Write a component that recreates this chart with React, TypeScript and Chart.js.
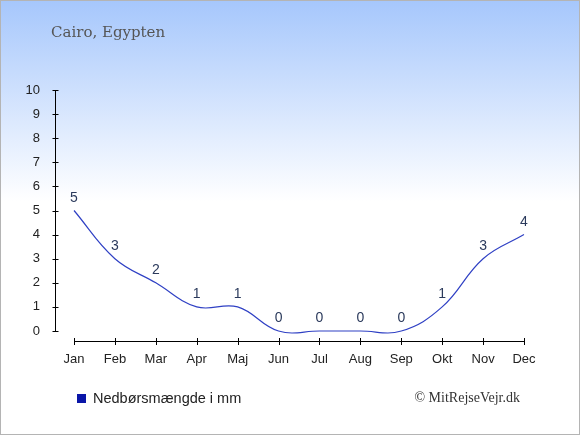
import React, { useEffect, useRef } from "react";
import { Chart, registerables } from "chart.js";

Chart.register(...registerables);

const months = ["Jan", "Feb", "Mar", "Apr", "Maj", "Jun", "Jul", "Aug", "Sep", "Okt", "Nov", "Dec"];
const precipitation = [5, 3, 2, 1, 1, 0, 0, 0, 0, 1, 3, 4];
const yTicks = [0, 1, 2, 3, 4, 5, 6, 7, 8, 9, 10];
const titleText = "Cairo, Egypten";
const legendText = "Nedbørsmængde i mm";
const creditText = "© MitRejseVejr.dk";

const axesPlugin = {
  id: "customAxes",
  afterDraw(chart: any) {
    const ctx = chart.ctx;
    const x = chart.scales.x;
    const y = chart.scales.y;
    ctx.save();
    ctx.strokeStyle = "#000";
    ctx.lineWidth = 1;
    const ax = 55.5;
    const yTop = y.getPixelForValue(10);
    const yBot = y.getPixelForValue(0);
    ctx.beginPath();
    ctx.moveTo(ax, yTop);
    ctx.lineTo(ax, yBot);
    yTicks.forEach((v) => {
      const py = Math.round(y.getPixelForValue(v)) + 0.5;
      ctx.moveTo(ax - 3, py);
      ctx.lineTo(ax + 3, py);
    });
    const xy = Math.round(yBot + 10) + 0.5;
    const x0 = x.getPixelForValue(0);
    const x1 = x.getPixelForValue(months.length - 1);
    ctx.moveTo(x0, xy);
    ctx.lineTo(x1, xy);
    months.forEach((_, i) => {
      const px = Math.round(x.getPixelForValue(i)) + 0.5;
      ctx.moveTo(px, xy - 3.5);
      ctx.lineTo(px, xy + 3.5);
    });
    ctx.stroke();
    ctx.fillStyle = "#2b3a5c";
    ctx.font = "14px 'Liberation Sans', Arial, sans-serif";
    ctx.textAlign = "center";
    ctx.textBaseline = "alphabetic";
    precipitation.forEach((v, i) => {
      const px = x.getPixelForValue(i);
      const py = y.getPixelForValue(v);
      ctx.fillText(String(v), px, py - 9);
    });
    ctx.restore();
  },
};

export default function App() {
  const ref = useRef<HTMLCanvasElement | null>(null);
  useEffect(() => {
    if (!ref.current) return;
    const chart = new Chart(ref.current, {
      type: "line",
      data: {
        labels: months,
        datasets: [
          {
            label: legendText,
            data: precipitation,
            borderColor: "#2f40c4",
            borderWidth: 1.2,
            pointRadius: 0,
            tension: 0.4,
            fill: false,
            clip: false as any,
          },
        ],
      },
      options: {
        animation: false,
        responsive: false,
        maintainAspectRatio: false,
        elements: { line: { capBezierPoints: false } },
        layout: { padding: { left: 0, right: 56, top: 90, bottom: 0 } },
        plugins: {
          legend: { display: false },
          title: { display: false },
          tooltip: { enabled: false },
        },
        scales: {
          x: {
            offset: false,
            grid: { display: false },
            border: { display: false },
            ticks: {
              color: "#222",
              font: { family: "'Liberation Sans', Arial, sans-serif", size: 13 },
              padding: 13,
              maxRotation: 0,
              autoSkip: false,
            },
            afterFit: (s: any) => {
              s.height = 104;
            },
          },
          y: {
            min: 0,
            max: 10,
            grid: { display: false },
            border: { display: false },
            afterBuildTicks: (s: any) => {
              s.ticks = yTicks.map((v) => ({ value: v }));
            },
            ticks: {
              color: "#222",
              font: { family: "'Liberation Sans', Arial, sans-serif", size: 13 },
              padding: 26,
            },
            afterFit: (s: any) => {
              s.width = 74;
            },
          },
        },
      },
      plugins: [axesPlugin],
    });
    return () => chart.destroy();
  }, []);

  return (
    <div
      style={{
        position: "fixed",
        left: 0,
        top: 0,
        width: 580,
        height: 435,
        boxSizing: "border-box",
        border: "1px solid #b4b4b4",
        background: "linear-gradient(to bottom, #a6c7fc 0px, #ffffff 200px)",
        overflow: "hidden",
      }}
    >
      <canvas
        ref={ref}
        width={580}
        height={435}
        style={{ position: "absolute", left: -1, top: -1, width: 580, height: 435 }}
      />
      <div
        style={{
          position: "absolute",
          left: 50,
          top: 22,
          fontFamily: "'DejaVu Serif', 'Liberation Serif', serif",
          fontSize: 15,
          color: "#555",
          whiteSpace: "nowrap",
        }}
      >
        {titleText}
      </div>
      <div
        style={{
          position: "absolute",
          left: 76,
          top: 393,
          width: 9,
          height: 9,
          background: "#0a16a8",
        }}
      />
      <div
        style={{
          position: "absolute",
          left: 92,
          top: 389,
          fontFamily: "'Liberation Sans', Arial, sans-serif",
          fontSize: 14.5,
          color: "#222",
          whiteSpace: "nowrap",
        }}
      >
        {legendText}
      </div>
      <div
        style={{
          position: "absolute",
          right: 59,
          top: 389,
          fontFamily: "'Liberation Serif', 'DejaVu Serif', serif",
          fontSize: 14,
          color: "#333",
          whiteSpace: "nowrap",
        }}
      >
        {creditText}
      </div>
    </div>
  );
}
